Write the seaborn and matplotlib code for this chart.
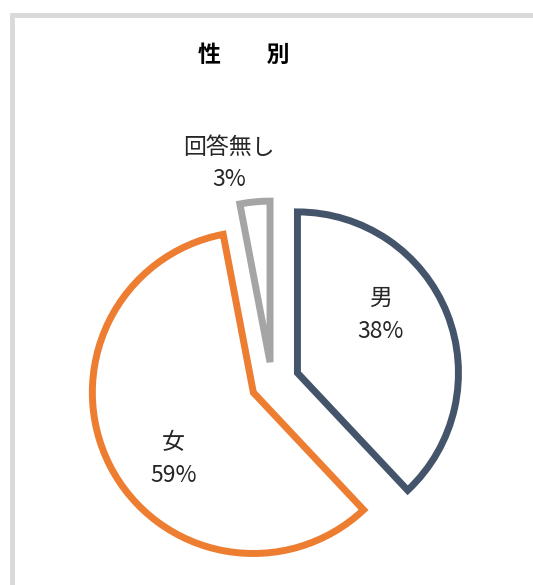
import numpy as np
import seaborn as sns
import matplotlib.pyplot as plt
from matplotlib.patches import Rectangle

# data
categories = ["男", "女", "回答無し"]
shares = [38, 59, 3]
pct_labels = ["38%", "59%", "3%"]

colors = ["#44546A", "#ED7D31", "#A5A5A5"]
explode = [0.17, 0.13, 0.13]

sns.set_theme(style="white")
plt.rcParams['font.family'] = ['Noto Sans CJK JP', 'DejaVu Sans']

W, H = 533, 585
fig = plt.figure(figsize=(W / 100, H / 100), dpi=100)
ax = fig.add_axes([0, 0, 1, 1])

wedges, texts = ax.pie(shares, explode=explode, startangle=90, counterclock=False,
                       colors=["white"] * 3, labels=categories, labeldistance=0.6,
                       wedgeprops=dict(linewidth=5, joinstyle="miter"))
for w, c in zip(wedges, colors):
    w.set_edgecolor(c)

# label placement relative to each wedge vertex (distance, angle in degrees)
label_pos = [(0.63, 35), (0.645, 219.5), (1.26, 101.6)]
for w, t, name, pct, (d, a) in zip(wedges, texts, categories, pct_labels, label_pos):
    cx, cy = w.center
    t.set_position((cx + d * np.cos(np.radians(a)), cy + d * np.sin(np.radians(a))))
    t.set_text(f"{name}\n{pct}")
    t.set_ha("center")
    t.set_va("center")
    t.set_fontsize(16.5)
    t.set_linespacing(1.55)
    t.set_color("#262626")

# pie centre at (272, 383) px, radius 161 px
r = 161
ax.set_xlim(-272 / r, (W - 272) / r)
ax.set_ylim(-(H - 383) / r, 383 / r)
ax.axis("off")

# chart area border (cut off on right and bottom)
fig.add_artist(Rectangle((12 / W, -0.2), 1.2, (H - 15) / H + 0.2,
                         transform=fig.transFigure, fill=False,
                         edgecolor="#D9D9D9", linewidth=3.5))

fig.text(244 / W, 1 - 55 / H, "性　　別", ha="center", va="center",
         fontsize=16.5, fontweight="bold", color="black")

fig.savefig("out.png", dpi=100)
